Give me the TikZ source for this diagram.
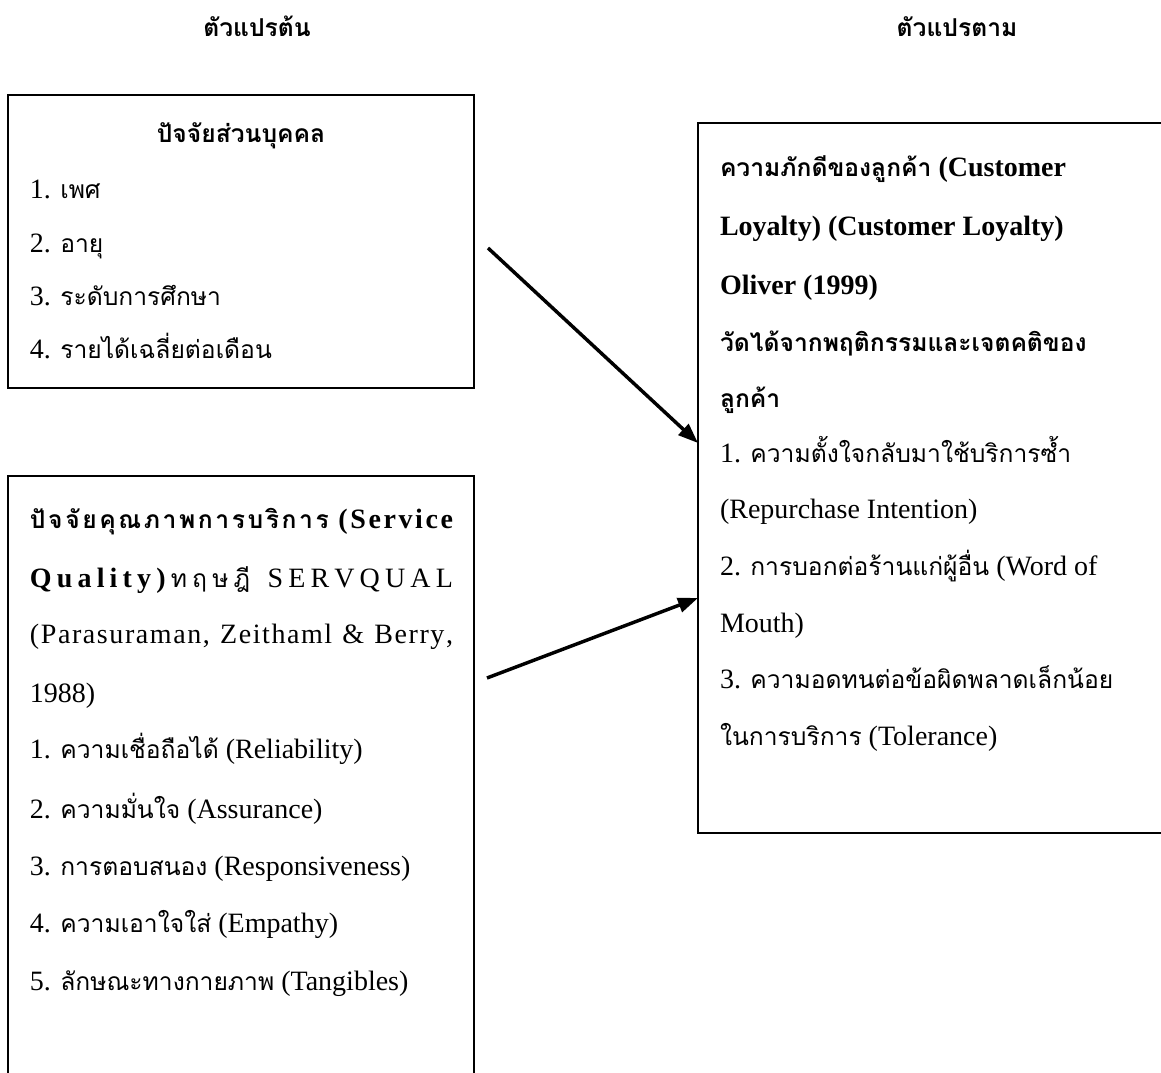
\documentclass[tikz,border=0pt]{standalone}
\usepackage{fontspec}
\setmainfont{Liberation Serif}
\newfontfamily\thaifont[Script=Thai,Scale=0.88]{Loma}
\newcommand\tx[1]{{\thaifont #1}}
\usetikzlibrary{arrows.meta}
\begin{document}
\begin{tikzpicture}[x=0.75pt,y=-0.75pt,
  every node/.style={inner sep=0pt, outer sep=0pt},
  boxst/.style={draw, line width=1.1pt, rectangle, anchor=north west},
  ln/.style={anchor=base west, font=\fontsize{21pt}{25pt}\selectfont},
  lnb/.style={anchor=base west, font=\fontsize{21pt}{25pt}\selectfont\bfseries},
  hd/.style={anchor=base, font=\fontsize{21pt}{25pt}\selectfont\bfseries},
  arr/.style={line width=2.6pt, -{Triangle[length=15pt,width=11pt]}}
]
\clip (0,0) rectangle (1161,1073);
\fill[white] (0,0) rectangle (1161,1073);

% headers
\node[hd] (h1) at (257,37) {\tx{ตัวแปรต้น}};
\node[hd] (h2) at (957,37) {\tx{ตัวแปรตาม}};

% boxes
\node[boxst, minimum width=466*0.75pt, minimum height=293*0.75pt] (b1) at (8,95) {};
\node[boxst, minimum width=466*0.75pt, minimum height=620*0.75pt] (b2) at (8,476) {};
\node[boxst, minimum width=480*0.75pt, minimum height=710*0.75pt] (b3) at (698,123) {};

% box 1 text
\node[hd] (p0) at (241,143) {\tx{ปัจจัยส่วนบุคคล}};
\node[ln] (p1) at (30,199) {1. \tx{เพศ}};
\node[ln] (p2) at (30,253) {2. \tx{อายุ}};
\node[ln] (p3) at (30,306) {3. \tx{ระดับการศึกษา}};
\node[ln] (p4) at (30,359) {4. \tx{รายได้เฉลี่ยต่อเดือน}};

% box 2 text
\node[lnb] (q1) at (30,528) {\makebox[317.25pt][s]{{\thaifont ปั\hfil จ\hfil จั\hfil ย\hfil คุ\hfil ณ\hfil ภ\hfil า\hfil พ\hfil ก\hfil า\hfil ร\hfil บ\hfil ริ\hfil ก\hfil า\hfil ร}\hfil\ (\hfil S\hfil e\hfil r\hfil v\hfil i\hfil c\hfil e}};
\node[ln] (q2) at (30,587) {\makebox[317.25pt][s]{{\bfseries Q\hfil u\hfil a\hfil l\hfil i\hfil t\hfil y\hfil )}\hfil{\thaifont ท\hfil ฤ\hfil ษ\hfil ฎี}\hfil\ \hfil S\hfil E\hfil R\hfil V\hfil Q\hfil U\hfil A\hfil L}};
\node[ln] (q3) at (30,643) {\makebox[317.25pt][s]{(\hfil P\hfil a\hfil r\hfil a\hfil s\hfil u\hfil r\hfil a\hfil m\hfil a\hfil n\hfil ,\hfil\ \hfil Z\hfil e\hfil i\hfil t\hfil h\hfil a\hfil m\hfil l\hfil\ \hfil\&\hfil\ \hfil B\hfil e\hfil r\hfil r\hfil y\hfil ,}};
\node[ln] (q4) at (30,702) {1988)};
\node[ln] (q5) at (30,758) {1. \tx{ความเชื่อถือได้} (Reliability)};
\node[ln] (q6) at (30,818) {2. \tx{ความมั่นใจ} (Assurance)};
\node[ln] (q7) at (30,875) {3. \tx{การตอบสนอง} (Responsiveness)};
\node[ln] (q8) at (30,932) {4. \tx{ความเอาใจใส่} (Empathy)};
\node[ln] (q9) at (30,990) {5. \tx{ลักษณะทางกายภาพ} (Tangibles)};

% box 3 text
\node[lnb] (r1) at (720,177) {\tx{ความภักดีของลูกค้า} (Customer};
\node[lnb] (r2) at (720,236) {Loyalty) (Customer Loyalty)};
\node[lnb] (r3) at (720,295) {Oliver (1999)};
\node[lnb] (r4) at (720,352) {\tx{วัดได้จากพฤติกรรมและเจตคติของ}};
\node[lnb] (r5) at (720,407) {\tx{ลูกค้า}};
\node[ln] (r6) at (720,462) {1. \tx{ความตั้งใจกลับมาใช้บริการซ้ำ}};
\node[ln] (r7) at (720,518) {(Repurchase Intention)};
\node[ln] (r8) at (720,575) {2. \tx{การบอกต่อร้านแก่ผู้อื่น} (Word of};
\node[ln] (r9) at (720,632) {Mouth)};
\node[ln] (r10) at (720,688) {3. \tx{ความอดทนต่อข้อผิดพลาดเล็กน้อย}};
\node[ln] (r11) at (720,745) {\tx{ในการบริการ} (Tolerance)};

% arrows
\coordinate (s1) at (488,248);
\coordinate (s2) at (487,678);
\coordinate (y1) at (0,443);
\coordinate (y2) at (0,598);
\draw[arr] (s1) -- (b3.west |- y1);
\draw[arr] (s2) -- (b3.west |- y2);
\end{tikzpicture}
\end{document}
